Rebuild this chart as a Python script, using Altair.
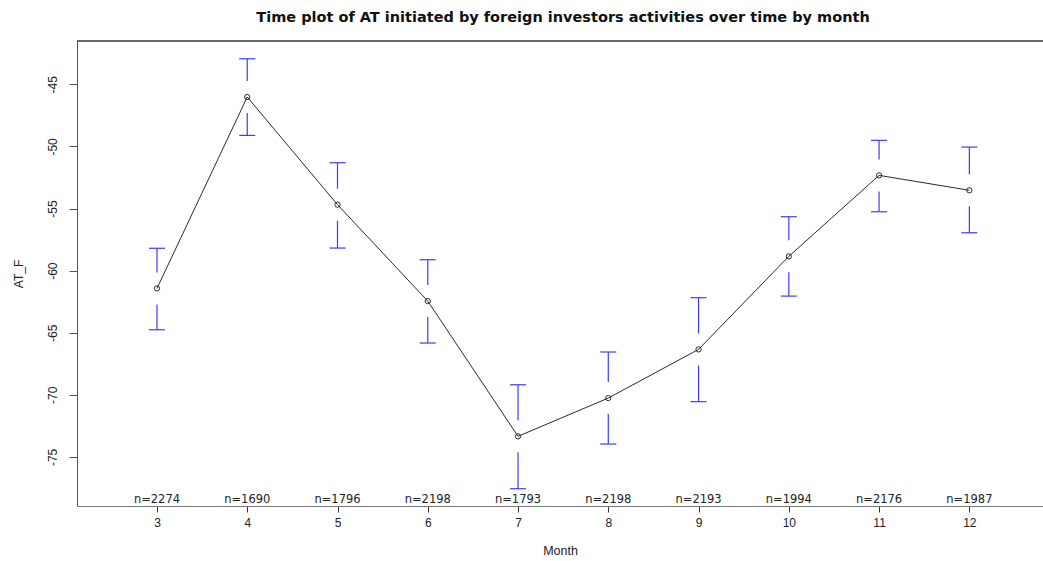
import altair as alt
import pandas as pd

# Monthly means of AT_F with 95% confidence limits and group sizes
months = [3, 4, 5, 6, 7, 8, 9, 10, 11, 12]
means = [-61.43, -46.02, -54.69, -62.45, -73.34, -70.26, -66.34, -58.85, -52.33, -53.53]
upper = [-58.20, -42.94, -51.31, -59.12, -69.19, -66.55, -62.18, -55.66, -49.51, -50.05]
lower = [-64.76, -49.11, -58.18, -65.83, -77.56, -73.96, -70.55, -62.05, -55.26, -56.95]
counts = [2274, 1690, 1796, 2198, 1793, 2198, 2193, 1994, 2176, 1987]

x_ticks = months
y_ticks = [-75, -70, -65, -60, -55, -50, -45]
x_domain = [2.114, 12.816]
y_domain = [-78.95, -41.51]

df = pd.DataFrame({
    "month": months,
    "mean": means,
    "upper": upper,
    "lower": lower,
    "label": [f"n={c}" for c in counts],
})
caps = pd.DataFrame({
    "month": months + months,
    "limit": upper + lower,
})

FONT = "Liberation Sans"
WIDE = "DejaVu Sans"
W, H = 966, 465
BLUE = "#3c3cff"

X = alt.X(
    "month:Q",
    scale=alt.Scale(domain=x_domain, nice=False, zero=False),
    axis=alt.Axis(
        values=x_ticks, format="d", grid=False, tickSize=6, labelPadding=5,
        labelFontSize=12, labelColor="#222", tickColor="#333", domainColor="#777",
        title="Month", titleFontWeight="normal", titleFontSize=12.5, titleColor="#222",
        titleY=44, titleBaseline="middle",
    ),
)
Y = alt.Y(
    "mean:Q",
    scale=alt.Scale(domain=y_domain, nice=False, zero=False),
    axis=alt.Axis(
        values=y_ticks, grid=False, tickSize=8, labelPadding=17, labelAngle=-90,
        labelAlign="center", labelBaseline="middle",
        labelExpr="toString(datum.value)",
        labelFontSize=12, labelColor="#222", tickColor="#555", domainColor="#555",
        title="AT_F", titleFontWeight="normal", titleFontSize=12, titleColor="#222",
        titleX=-59, titleBaseline="middle",
    ),
)

base = alt.Chart(df)

line = base.mark_line(color="#2a2a2a", strokeWidth=1).encode(x=X, y=Y)
points = base.mark_point(shape="circle", filled=False, size=28, color="#2a2a2a",
                         strokeWidth=1, opacity=1).encode(x=X, y=Y)

# confidence stems, broken around the mean marker
stem_up = base.mark_rule(color=BLUE, strokeWidth=1.2, y2Offset=-16).encode(
    x=X, y=alt.Y("upper:Q"), y2=alt.Y2("mean:Q"))
stem_down = base.mark_rule(color=BLUE, strokeWidth=1.2, yOffset=16).encode(
    x=X, y=alt.Y("mean:Q"), y2=alt.Y2("lower:Q"))

cap_marks = alt.Chart(caps).mark_rule(color=BLUE, strokeWidth=1.2,
                                      xOffset=-8, x2Offset=8).encode(
    x=X, x2=alt.X2("month:Q"), y=alt.Y("limit:Q"))

n_labels = base.mark_text(font=WIDE, fontSize=11.5, color="#222", baseline="alphabetic",
                          dy=-3).encode(x=X, y=alt.datum(y_domain[0]), text="label:N")

top_border = alt.Chart(df).mark_rule(color="#666", strokeWidth=1).encode(
    x=alt.value(0), x2=alt.value(W), y=alt.value(0))

chart = alt.layer(
    line, points, stem_up, stem_down, cap_marks, n_labels, top_border
).properties(
    width=W,
    height=H,
    autosize=alt.AutoSizeParams(type="none"),
    padding={"left": 77, "top": 41, "right": 0, "bottom": 54},
    title=alt.TitleParams(
        "Time plot of AT initiated by foreign investors activities over time by month",
        font=WIDE, fontSize=14.5, fontWeight="bold", color="#111",
        anchor="middle", offset=15, dx=3,
    ),
).configure(
    font=FONT,
    background="white",
).configure_view(
    stroke=None,
).configure_axis(
    labelFont=FONT, titleFont=FONT,
)

chart.save("out.html", embed_options={"renderer": "svg", "actions": False})
